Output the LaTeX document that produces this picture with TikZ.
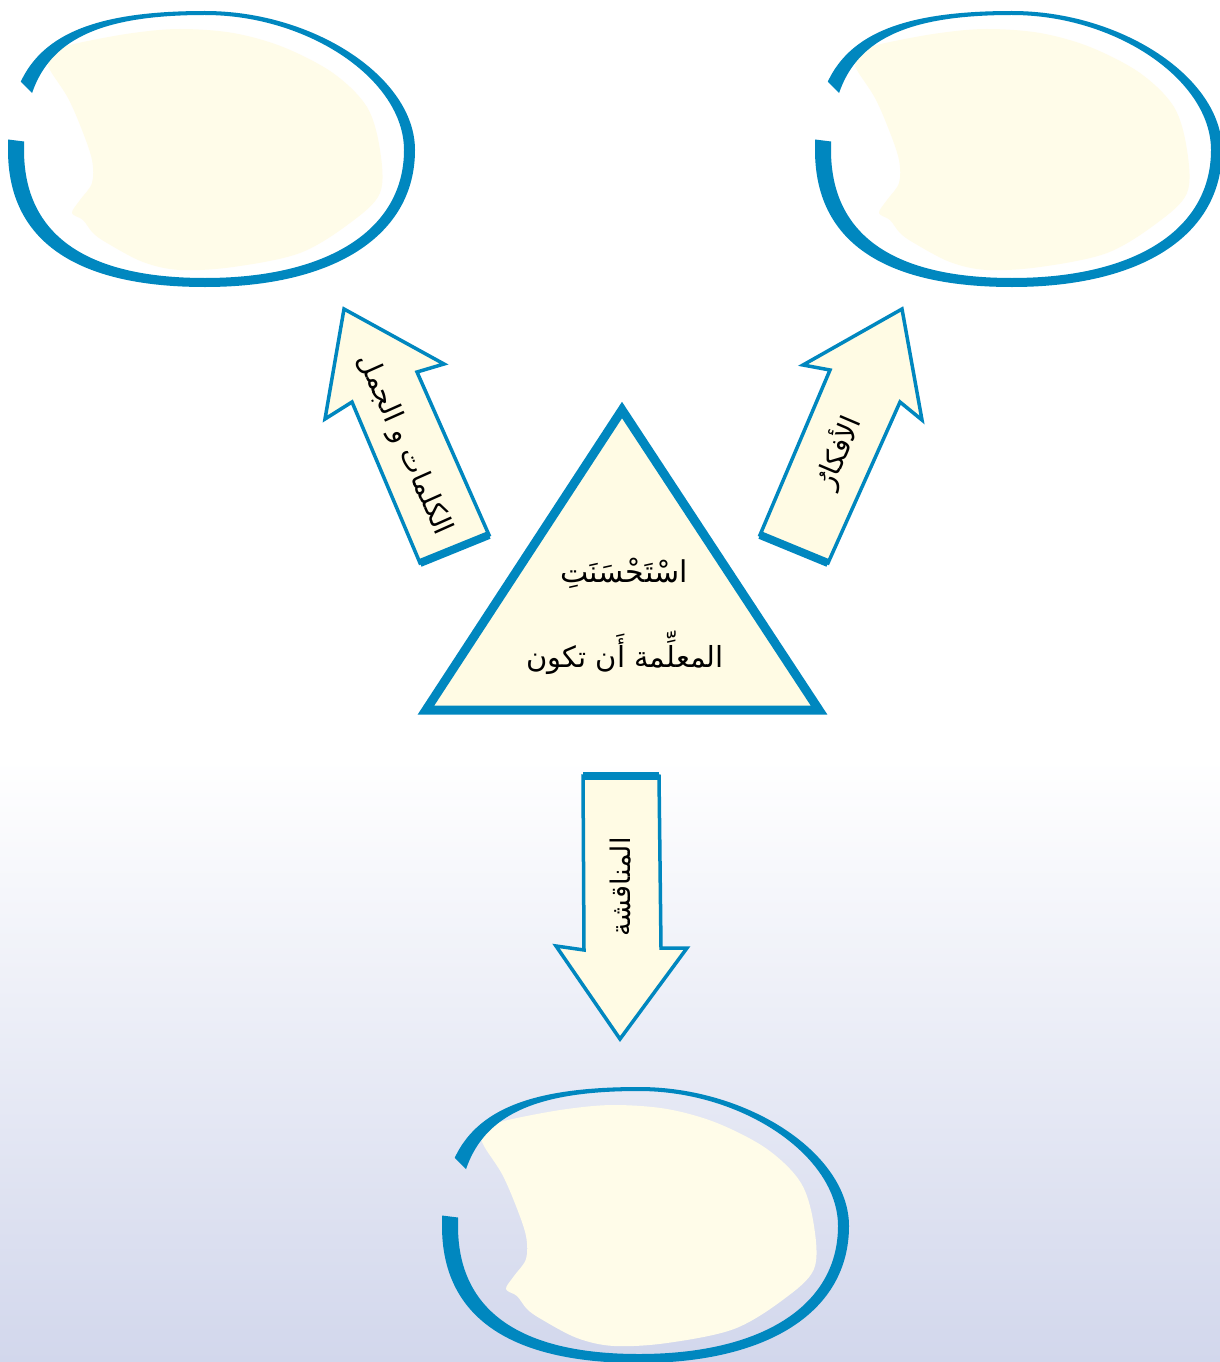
\documentclass[tikz,border=0pt]{standalone}
\usepackage{fontspec}
\newfontfamily\arabicfont[Script=Arabic]{DejaVu Sans}
\TeXXeTstate=1
\definecolor{bblue}{HTML}{0087BF}
\definecolor{cream}{HTML}{FFFCE9}
\definecolor{acream}{HTML}{FFFBE4}
\definecolor{bgmid}{HTML}{F3F4F9}
\definecolor{bgbot}{HTML}{D2D7EC}
\tikzset{
  bubble/.pic={
    \fill[cream] plot[smooth cycle, tension=0.55] coordinates {(47,58) (53,50) (83,42) (133,33) (180,29) (233,33) (283,47) (333,73) (367,107) (380,150) (380,193) (350,223) (300,253) (233,267) (180,270) (143,262) (107,243) (93,233) (83,220) (72,213) (80,200) (92,183) (92,160) (82,130) (68,98) (50,70)};
    \begin{scope}
      \clip (-60,-60) -- (470,-60) -- (470,360) -- (-60,360) -- (-60,131) -- (60,146) -- (50,111) -- (-20,41) -- cycle;
      \fill[bblue, even odd rule]
        (8,150) .. controls (8,49.9) and (63.2,11) .. (205,11)
        .. controls (314.2,11) and (415,77.7) .. (415,150)
        .. controls (415,234.9) and (335.2,287) .. (205,287)
        .. controls (75,287) and (8,240.4) .. (8,150) -- cycle
        (24,150) .. controls (24,52.8) and (74.7,15) .. (205,15)
        .. controls (308.5,15) and (404,79.8) .. (404,150)
        .. controls (404,229.4) and (328.4,278) .. (205,278)
        .. controls (85.5,278) and (24,234.5) .. (24,150) -- cycle;
    \end{scope}
  },
  arrowbody/.style={fill=acream, draw=bblue, line width=3.5pt, line join=miter},
  arrowbase/.style={draw=bblue, line width=8pt, line cap=butt},
  lbl/.style={inner sep=0pt, font=\arabicfont},
}
\begin{document}
\begin{tikzpicture}[x=1pt, y=-1pt]
\useasboundingbox (0,0) rectangle (1220,1362);
\fill[white] (0,0) rectangle (1220,760);
\shade[top color=white, middle color=bgmid, bottom color=bgbot] (0,759) rectangle (1220,1362);

% bubbles
\pic at (0,0) {bubble};
\pic at (807,0) {bubble};
\pic at (434,1076) {bubble};

% triangle
\coordinate (tA) at (622,410);
\coordinate (tB) at (426,710);
\coordinate (tC) at (819,710);
\draw[fill=acream, draw=bblue, line width=9pt, line join=miter] (tA) -- (tB) -- (tC) -- cycle;
\node[lbl, font=\arabicfont\fontsize{30}{33}\selectfont, anchor=base] (l1) at (624,582) {\beginR اسْتَحْسَنَتِ\endR};
\node[lbl, font=\arabicfont\fontsize{29}{32}\selectfont, anchor=base] (l2) at (625,667) {\beginR المعلِّمة أَن تكون\endR};

% left arrow
\coordinate (a1) at (344,309);
\coordinate (a2) at (444,364);
\coordinate (a3) at (417,372);
\coordinate (a4) at (489,535);
\coordinate (a5) at (420,563);
\coordinate (a6) at (352,402);
\coordinate (a7) at (325,419);
\draw[arrowbody] (a1) -- (a2) -- (a3) -- (a4) -- (a5) -- (a6) -- (a7) -- cycle;
\draw[arrowbase] (a4) -- (a5);
\node[lbl, font=\arabicfont\fontsize{28}{30}\selectfont, rotate=-66] (t1) at (404,445) {\beginR الكلمات و الجمل\endR};

% right arrow
\coordinate (b1) at (902,309);
\coordinate (b2) at (922,420);
\coordinate (b3) at (900,402);
\coordinate (b4) at (828,563);
\coordinate (b5) at (760,535);
\coordinate (b6) at (830,370);
\coordinate (b7) at (803,365);
\draw[arrowbody] (b1) -- (b2) -- (b3) -- (b4) -- (b5) -- (b6) -- (b7) -- cycle;
\draw[arrowbase] (b4) -- (b5);
\node[lbl, font=\arabicfont\fontsize{28}{30}\selectfont, rotate=67] (t2) at (838,452) {\beginR الأفكارُ\endR};

% down arrow
\coordinate (c1) at (583,776);
\coordinate (c2) at (659,776);
\coordinate (c3) at (661,948);
\coordinate (c4) at (687,948);
\coordinate (c5) at (620,1039);
\coordinate (c6) at (556,946);
\coordinate (c7) at (584,950);
\draw[arrowbody] (c1) -- (c2) -- (c3) -- (c4) -- (c5) -- (c6) -- (c7) -- cycle;
\draw[arrowbase] (c1) -- (c2);
\node[lbl, font=\arabicfont\fontsize{27}{29}\selectfont, rotate=90] (t3) at (621,887) {\beginR المناقشة\endR};
\end{tikzpicture}
\end{document}
